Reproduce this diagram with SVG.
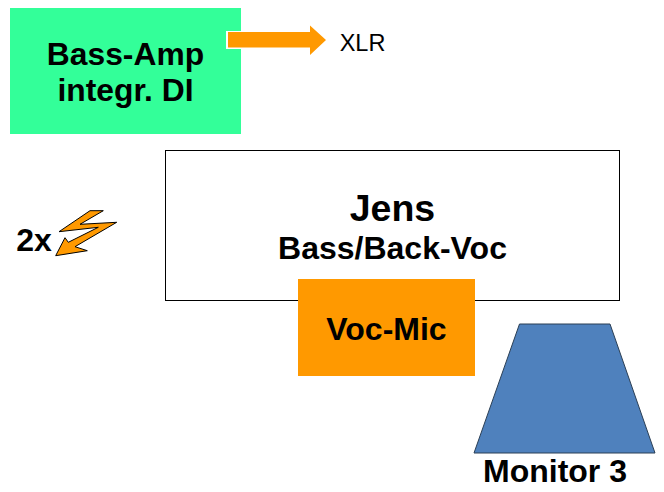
<svg xmlns="http://www.w3.org/2000/svg" width="664" height="492" viewBox="0 0 664 492">
<style>
text{font-family:"Liberation Sans",Arial,sans-serif;font-weight:bold;fill:#000;text-anchor:middle}
</style>
<rect width="664" height="492" fill="#fff"/>
<g id="bass-amp">
<rect x="10" y="8" width="231" height="126" fill="#33ff99"/>
<text x="125.500" y="65" font-size="31.800">Bass-Amp</text>
<text x="125.500" y="101" font-size="31.800">integr. DI</text>
</g>
<g id="jens">
<rect x="165.500" y="150.500" width="454" height="150" fill="#fff" stroke="#000" stroke-width="1"/>
<text x="392.500" y="221" font-size="37.500">Jens</text>
<text x="392.500" y="259" font-size="32">Bass/Back-Voc</text>
</g>
<g id="voc-mic">
<rect x="298" y="279" width="177" height="97" fill="#ff9900"/>
<text x="386.500" y="340" font-size="32">Voc-Mic</text>
</g>
<g id="monitor-3">
<polygon points="519.500,324 610,324 655,453 474,453" fill="#4f81bd" stroke="#2b3f55" stroke-width="1"/>
<text x="555" y="482" font-size="32">Monitor 3</text>
</g>
<g id="wireless">
<text x="34" y="250.500" font-size="32">2x</text>
<polygon points="90,210.700 103.300,210.700 80,224.300 116.700,222.300 75,246.700 87.300,250.700 55.700,255.700 65,237.700 68.300,242.300 98.300,227.300 59,231.700" fill="#ff9900" stroke="#000" stroke-width="1"/>
</g>
<g id="connectors">
<path d="M226 31H310V25L327 40L310 55V49H226Z" fill="#fff" stroke="none"/>
<polygon points="228,32 310,32 310,25.500 326,40 310,55 310,47.500 228,47.500" fill="#ff9900"/>
</g>
<text x="362.500" y="51" font-size="23.500" style="font-weight:normal">XLR</text>
</svg>
